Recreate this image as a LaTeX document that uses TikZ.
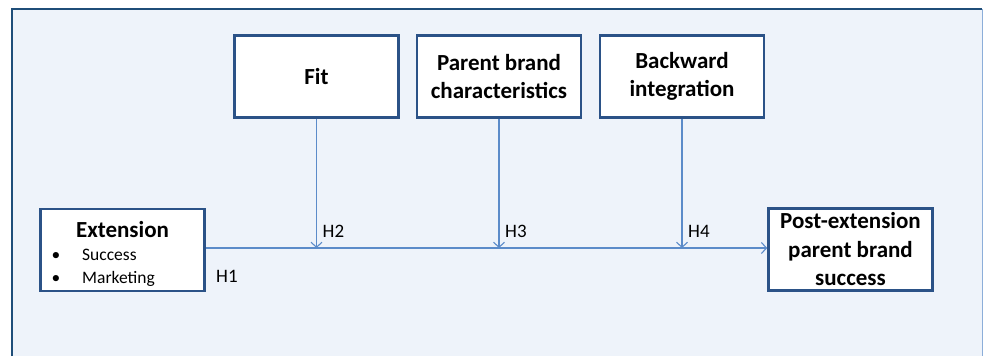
\documentclass[tikz,border=0pt]{standalone}
\usepackage{fontspec}
\setmainfont{Carlito}
\usetikzlibrary{arrows.meta,positioning,calc}

\definecolor{framedark}{HTML}{1F4E79}
\definecolor{boxline}{HTML}{2B5287}
\definecolor{arrline}{HTML}{5B8BC9}
\definecolor{panel}{HTML}{EEF3FA}

\newcommand{\bulletitem}[1]{\makebox[142pt][l]{\mdseries\fontsize{17.5}{23}\selectfont\textbullet\hspace{22pt}#1}}

\begin{document}
\begin{tikzpicture}[
    x=1pt, y=-1pt,
    factor/.style={draw=boxline, line width=2.6pt, fill=white, minimum width=164pt, minimum height=82pt, align=center, font=\bfseries\fontsize{23}{28.5}\selectfont},
    hyp/.style={font=\fontsize{19}{22}\selectfont, inner sep=0pt},
    arr/.style={-{Straight Barb[length=5pt, width=11pt]}, draw=arrline, line width=1.1pt}
]
\useasboundingbox (0,0) rectangle (987,356);
% panel
\fill[panel] (12,9) rectangle (982,356);
\draw[arrline!70, line width=0.8pt] (982,9) -- (982,356);
\draw[framedark, line width=2.6pt] (12,356) -- (12,9) -- (982,9);

\node[factor] (fit) at (316.5,76.5) {Fit};
\node[factor] (par) at (499,76.5) {Parent brand\\characteristics};
\node[factor] (bak) at (682,76.5) {Backward\\integration};
\node[factor] (ext) at (122.5,250) {\rule{0pt}{24pt}Extension\\[-5.5pt]\bulletitem{Success}\\[-5.5pt]\bulletitem{Marketing}};
\node[factor] (post) at (850.5,249.5) {Post-extension\\parent brand\\success};

\draw[arr] (ext.east |- 0,248) -- (post.west |- 0,248);
\draw[arr] (fit) -- (fit |- 0,248);
\draw[arr] (par) -- (par |- 0,248);
\draw[arr] (bak) -- (bak |- 0,248);

\node[hyp, anchor=base west] (h1) at (216,282) {H1};
\node[hyp, anchor=base west] (h2) at ([xshift=6pt, yshift=11pt]fit |- 0,248) {H2};
\node[hyp, anchor=base west] (h3) at ([xshift=6pt, yshift=11pt]par |- 0,248) {H3};
\node[hyp, anchor=base west] (h4) at ([xshift=6pt, yshift=11pt]bak |- 0,248) {H4};
\end{tikzpicture}
\end{document}
